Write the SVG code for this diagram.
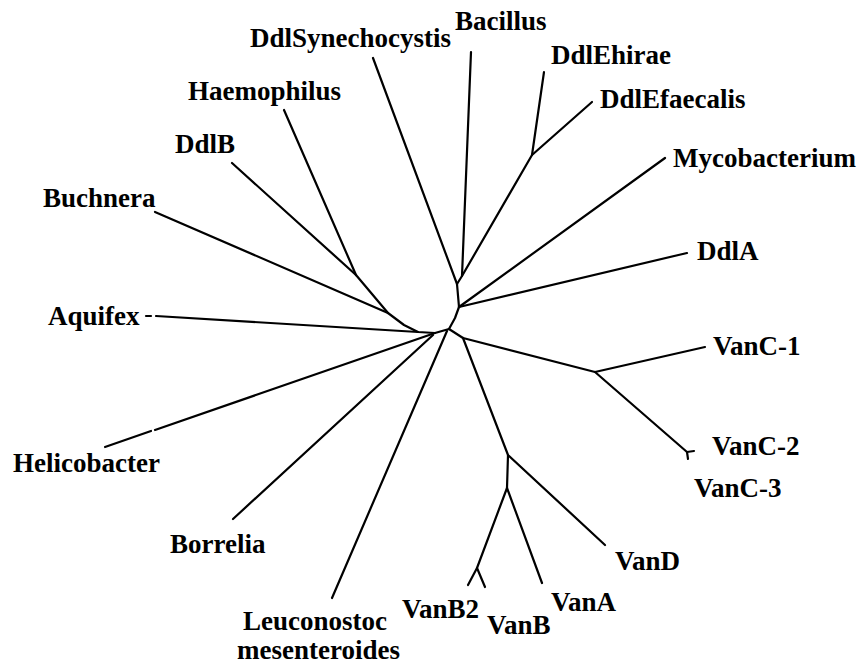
<svg xmlns="http://www.w3.org/2000/svg" width="859" height="667" viewBox="0 0 859 667">
<style>
  .lbl { font-family: "Liberation Serif", "Times New Roman", serif; font-weight: bold; font-size: 27px; fill: #000; }
  .br { stroke: #000; stroke-width: 2.2; fill: none; stroke-linecap: round; stroke-linejoin: round; }
</style>
<rect width="859" height="667" fill="#fff"/>
<g id="connectors" class="br">
  <path d="M373,58 L457,284"/>
  <path d="M471,52 L462,276"/>
  <path d="M544,72 L532,155"/>
  <path d="M592,102 L532,155"/>
  <path d="M532,155 L462,276 L457,284 L459,307 L455,318 L449,329"/>
  <path d="M665,158 L459,307"/>
  <path d="M687,253 L459,307"/>
  <path d="M449,329 L463,338 L595,372"/>
  <path d="M705,347 L595,372"/>
  <path d="M595,372 L687,452"/>
  <path d="M687,452 L694,451"/>
  <path d="M687,452 L688,459"/>
  <path d="M463,338 L508,455 L605,545"/>
  <path d="M508,455 L507,488 L542,583"/>
  <path d="M507,488 L477,568 L468,585"/>
  <path d="M477,568 L485,587"/>
  <path d="M447,331 L332,598"/>
  <path d="M449,329 L435,333 L155,430"/>
  <path d="M151,431 L105,447"/>
  <path d="M433,335 L233,519"/>
  <path d="M435,333 L418,332 L404,325 L388,313 L356,275 L232,163"/>
  <path d="M356,275 L284,110"/>
  <path d="M388,313 L155,212"/>
  <path d="M418,332 L156,316"/>
  <path d="M146,316 L151,316"/>
</g>
<g id="node-DdlSynechocystis"><text class="lbl" x="250" y="47">DdlSynechocystis</text></g>
<g id="node-Bacillus"><text class="lbl" x="455" y="30">Bacillus</text></g>
<g id="node-DdlEhirae"><text class="lbl" x="551" y="64">DdlEhirae</text></g>
<g id="node-DdlEfaecalis"><text class="lbl" x="600" y="108">DdlEfaecalis</text></g>
<g id="node-Mycobacterium"><text class="lbl" x="673" y="167">Mycobacterium</text></g>
<g id="node-DdlA"><text class="lbl" x="697" y="260">DdlA</text></g>
<g id="node-VanC-1"><text class="lbl" x="713" y="355">VanC-1</text></g>
<g id="node-VanC-2"><text class="lbl" x="712" y="455">VanC-2</text></g>
<g id="node-VanC-3"><text class="lbl" x="694" y="497">VanC-3</text></g>
<g id="node-VanD"><text class="lbl" x="615" y="570">VanD</text></g>
<g id="node-VanA"><text class="lbl" x="551" y="611">VanA</text></g>
<g id="node-VanB"><text class="lbl" x="487" y="634">VanB</text></g>
<g id="node-VanB2"><text class="lbl" x="402" y="618">VanB2</text></g>
<g id="node-Leuconostoc"><text class="lbl" x="243" y="630">Leuconostoc</text><text class="lbl" x="237" y="659">mesenteroides</text></g>
<g id="node-Borrelia"><text class="lbl" x="170" y="553">Borrelia</text></g>
<g id="node-Helicobacter"><text class="lbl" x="13" y="472">Helicobacter</text></g>
<g id="node-Aquifex"><text class="lbl" x="48" y="325">Aquifex</text></g>
<g id="node-Buchnera"><text class="lbl" x="43" y="207">Buchnera</text></g>
<g id="node-DdlB"><text class="lbl" x="175" y="153">DdlB</text></g>
<g id="node-Haemophilus"><text class="lbl" x="188" y="100">Haemophilus</text></g>
</svg>
